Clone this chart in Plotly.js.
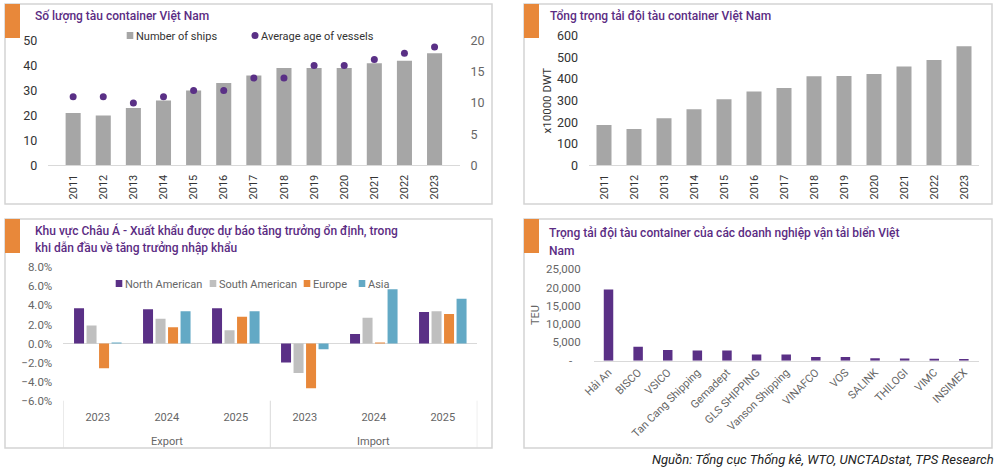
<!DOCTYPE html>
<html><head><meta charset="utf-8">
<script src="https://cdn.plot.ly/plotly-3.0.1.min.js"></script>
<style>html,body{margin:0;padding:0;background:#fff}#c{width:1000px;height:472px}</style>
</head><body><div id="c"></div>
<script>
const years=['2011','2012','2013','2014','2015','2016','2017','2018','2019','2020','2021','2022','2023'];
const ships=[21,20,23,26,30,33,36,39,39,39,41,42,45];
const vesselAge=[11,11,10,11,12,12,14,14,16,16,17,18,19];
const dwt=[187,169,218,260,306,342,359,413,414,424,458,489,553];
const flow=['Export','Export','Export','Import','Import','Import'];
const tradeYears=['2023','2024','2025','2023','2024','2025'];
const northAmerican=[3.7,3.6,3.7,-2.0,1.0,3.3];
const southAmerican=[1.9,2.6,1.4,-3.1,2.7,3.4];
const europe=[-2.6,1.7,2.8,-4.7,0.1,3.1];
const asia=[0.1,3.4,3.4,-0.6,5.7,4.7];
const companies=['Hải An','BISCO','VSICO','Tan Cang Shipping','Gemadept','GLS SHIPPING','Vanson Shipping','VINAFCO','VOS','SALINK','THILOGI','VIMC','INSIMEX'];
const teu=[19500,3800,2900,2800,2800,1700,1700,1000,1000,700,600,500,450];
const teuTicks=[0,5000,10000,15000,20000,25000];
const teuLabels=['-\u00a0\u00a0\u00a0','5,000','10,000','15,000','20,000','25,000'];

const W=1000,H=472,FONT='Roboto,sans-serif';
const PURPLE='#5A3086',GREY='#A6A6A6',LGREY='#BFBFBF',ORANGE='#E8883A',BLUE='#63A9C5',LINE='#D9D9D9',BORDER='#D4D4D4';
const dx=(a,b)=>[a/W,b/W], dy=(top,bot)=>[1-bot/H,1-top/H];
const dark={family:FONT,size:11,color:'#333'}, soft={family:FONT,size:11,color:'#666'};
const tradeCats=flow.map((f,i)=>f+' '+tradeYears[i]);

const data=[
 {type:'bar',name:'Number of ships',x:years,y:ships,xaxis:'x',yaxis:'y',width:0.5,marker:{color:GREY},legend:'legend'},
 {type:'scatter',mode:'markers',name:'Average age of vessels',x:years,y:vesselAge,xaxis:'x',yaxis:'y5',marker:{color:PURPLE,size:7},legend:'legend'},
 {type:'bar',x:years,y:dwt,xaxis:'x2',yaxis:'y2',width:0.5,marker:{color:GREY},showlegend:false},
 {type:'bar',name:'North American',x:tradeCats,y:northAmerican,xaxis:'x3',yaxis:'y3',marker:{color:PURPLE},legend:'legend2'},
 {type:'bar',name:'South American',x:tradeCats,y:southAmerican,xaxis:'x3',yaxis:'y3',marker:{color:LGREY},legend:'legend2'},
 {type:'bar',name:'Europe',x:tradeCats,y:europe,xaxis:'x3',yaxis:'y3',marker:{color:ORANGE},legend:'legend2'},
 {type:'bar',name:'Asia',x:tradeCats,y:asia,xaxis:'x3',yaxis:'y3',marker:{color:BLUE},legend:'legend2'},
 {type:'bar',x:companies,y:teu,xaxis:'x4',yaxis:'y4',marker:{color:PURPLE},width:0.32,showlegend:false}
];

const panels=[[5,4,492,204],[524,4,992,204],[5,219,492,448],[524,219,992,448]];
const shapes=[];
panels.forEach(p=>{
 shapes.push({type:'rect',xref:'paper',yref:'paper',x0:p[0]/W,x1:p[2]/W,y0:1-p[3]/H,y1:1-p[1]/H,line:{color:BORDER,width:1.5},fillcolor:'rgba(0,0,0,0)',layer:'below'});
 shapes.push({type:'rect',xref:'paper',yref:'paper',x0:p[0]/W,x1:(p[0]+15)/W,y0:1-(p[1]+34)/H,y1:1-p[1]/H,line:{width:0},fillcolor:ORANGE,layer:'below'});
});
[-0.5,2.5,5.5].forEach(v=>shapes.push({type:'line',xref:'x3',yref:'paper',x0:v,x1:v,y0:1-400.7/H,y1:1-448/H,line:{color:LINE,width:1},layer:'below'}));

const note=(text,x,y,font,anchor)=>({text,xref:'paper',yref:'paper',x:x/W,y:1-y/H,xanchor:anchor||'left',yanchor:'middle',align:anchor||'left',showarrow:false,font,borderpad:0});
const tfont={family:FONT,size:12,weight:500,color:'#5B2C83'};
const flowNote=(text,pos)=>({text,xref:'x3',yref:'paper',x:pos,y:1-441/H,xanchor:'center',yanchor:'middle',showarrow:false,font:soft,borderpad:0});

const xYear=(dom)=>({domain:dom,type:'category',tickangle:-90,tickfont:dark,ticks:'',showgrid:false,showline:true,linecolor:LINE,linewidth:1,fixedrange:true,ticklabelstandoff:4});
const yBase=(dom,range,dtick,font,standoff)=>({domain:dom,range,dtick,tickfont:font,showgrid:false,zeroline:false,showline:false,ticks:'',ticklabelstandoff:standoff,fixedrange:true});

const layout={
 width:W,height:H,margin:{l:0,r:0,t:0,b:0},paper_bgcolor:'#fff',plot_bgcolor:'rgba(0,0,0,0)',font:{family:FONT},
 barmode:'group',bargap:0.275,bargroupgap:0.2,showlegend:true,shapes,
 xaxis:xYear(dx(48.2,459.5)),
 yaxis:yBase(dy(40.7,165.3),[0,50],10,{family:FONT,size:12.5,color:'#333'},10),
 yaxis5:Object.assign(yBase(dy(40.7,165.3),[0,20],5,{family:FONT,size:12.5,color:'#666'},10),{overlaying:'y',side:'right',anchor:'x'}),
 xaxis2:Object.assign(xYear(dx(589,979)),{anchor:'y2'}),
 yaxis2:Object.assign(yBase(dy(36,165.3),[0,600],100,{family:FONT,size:12.5,color:'#333'},10),{anchor:'x2',title:{text:'x10000 DWT',font:{family:FONT,size:11.5,color:'#333'},standoff:2}}),
 xaxis3:{domain:dx(63.3,477.3),anchor:'y3',type:'category',range:[-0.5,5.5],tickmode:'array',tickvals:tradeCats,ticktext:tradeYears,tickfont:soft,showgrid:false,showline:false,ticks:'',fixedrange:true,ticklabelstandoff:8},
 yaxis3:Object.assign(yBase(dy(267.3,400.7),[-6,8],2,{family:FONT,size:11.5,color:'#666'},10),{anchor:'x3',tickformat:'.1f',ticksuffix:'%',zeroline:true,zerolinecolor:LINE,zerolinewidth:1}),
 xaxis4:{domain:dx(593.7,978.7),anchor:'y4',type:'category',tickangle:-45,tickfont:soft,ticks:'',showgrid:false,showline:true,linecolor:LINE,linewidth:1,fixedrange:true},
 yaxis4:Object.assign(yBase(dy(269.3,360.7),[0,25000],5000,{family:FONT,size:11.5,color:'#666'},12),{anchor:'x4',tickmode:'array',tickvals:teuTicks,ticktext:teuLabels,title:{text:'TEU',font:{family:FONT,size:11,color:'#666'},standoff:4}}),
 legend:{orientation:'h',x:96/W,y:1-21/H,yanchor:'top',xanchor:'left',font:{family:FONT,size:11,color:'#333'},entrywidth:130,entrywidthmode:'pixels',bgcolor:'rgba(0,0,0,0)'},
 legend2:{orientation:'h',x:85/W,y:1-269/H,yanchor:'top',xanchor:'left',font:{family:FONT,size:11,color:'#666'},entrywidth:70,entrywidthmode:'pixels',bgcolor:'rgba(0,0,0,0)'},
 annotations:[
  note('Số lượng tàu container Việt Nam',34,16,tfont),
  note('Tổng trọng tải đội tàu container Việt Nam',549,16,tfont),
  note('Khu vực Châu Á - Xuất khẩu được dự báo tăng trưởng ổn định, trong',34,231,tfont),
  note('khi dẫn đầu về tăng trưởng nhập khẩu',34,248,tfont),
  note('Trọng tải đội tàu container của các doanh nghiệp vận tải biển Việt',548,233.5,tfont),
  note('Nam',548,251,tfont),
  note('<i>Nguồn: Tổng cục Thống kê, WTO, UNCTADstat, TPS Research</i>',995,459.5,{family:FONT,size:13,color:'#222'},'right'),
  flowNote('Export',1),flowNote('Import',4)
 ]
};
const entryOffsets={'Number of ships':0,'Average age of vessels':125,'North American':0,'South American':94,'Europe':188,'Asia':243};
Plotly.newPlot('c',data,layout,{displayModeBar:false,staticPlot:true}).then(gd=>{
 // Plotly reserves a fixed 30px key column and equal entry widths; the reference packs them tighter.
 gd.querySelectorAll('.legendsymbols').forEach(s=>s.setAttribute('transform','translate(14,0)'));
 gd.querySelectorAll('.legendsymbols path').forEach(p=>{
  if(!p.classList.contains('scatterpts')) p.setAttribute('d','M3.3,3.5H-3.3V-3.5H3.3Z');
 });
 gd.querySelectorAll('.legend .traces, .legend2 .traces').forEach(t=>{
  const off=entryOffsets[t.textContent.trim()];
  const m=/translate\(([-\d.]+)[ ,]*([-\d.]+)?/.exec(t.getAttribute('transform')||'');
  if(off!==undefined&&m) t.setAttribute('transform','translate('+off+','+(m[2]||0)+')');
 });
});
</script></body></html>
